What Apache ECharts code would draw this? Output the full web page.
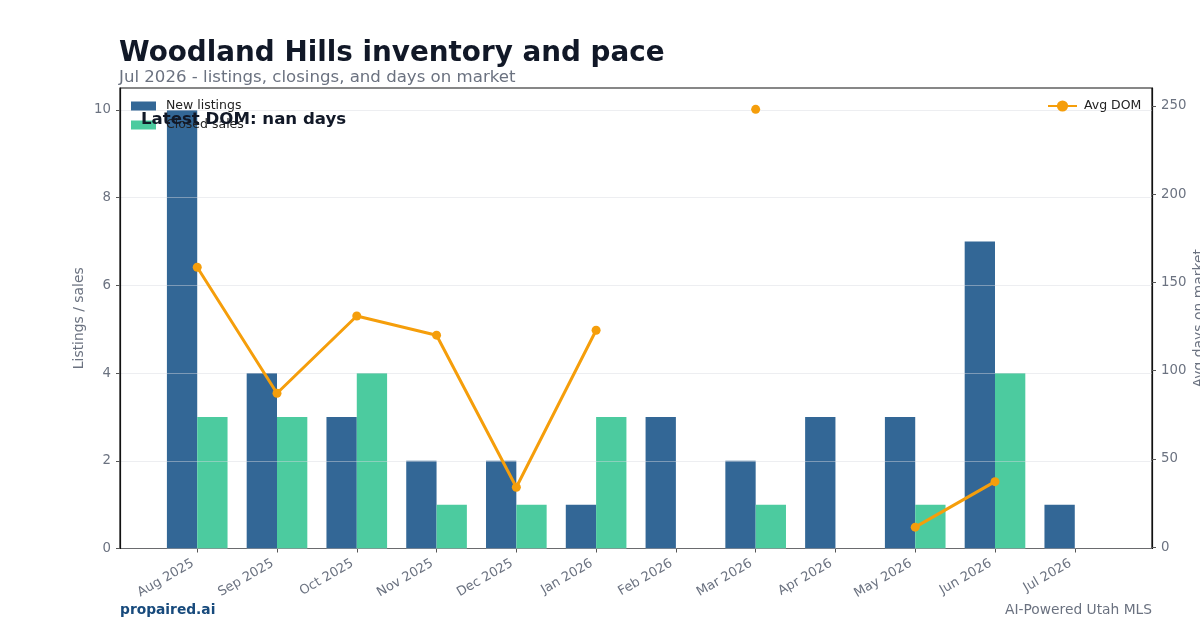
<!DOCTYPE html>
<html>
<head>
<meta charset="utf-8">
<script src="https://cdn.jsdelivr.net/npm/echarts@6/dist/echarts.min.js"></script>
<style>
html,body{margin:0;padding:0;background:#fff;}
#chart{width:1200px;height:630px;}
</style>
</head>
<body>
<div id="chart"></div>
<script>
const months = ['Aug 2025','Sep 2025','Oct 2025','Nov 2025','Dec 2025','Jan 2026','Feb 2026','Mar 2026','Apr 2026','May 2026','Jun 2026','Jul 2026'];
const newListings = [10,4,3,2,2,1,3,2,3,3,7,1];
const closedSales = [3,3,4,1,1,3,0,1,0,1,4,0];
const avgDom = [158.6,87.2,131,120.1,33.9,122.9,null,248.1,null,11.3,37.1,null];
const leftTicks = [0,2,4,6,8,10];
const rightTicks = [0,50,100,150,200,250];

const idx = months.map((m,i)=>i);
const FONT = 'DejaVu Sans';
const GRAY = '#6b7280';
const legendText = {fontFamily:FONT, fontSize:12.5, color:'#222', lineHeight:14, padding:[0,0,0,5]};

const chart = echarts.init(document.getElementById('chart'), null, {renderer:'canvas'});
chart.setOption({
  animation:false,
  backgroundColor:'#ffffff',
  textStyle:{fontFamily:FONT},
  title:[
    {text:'Woodland Hills inventory and pace', left:119, top:40, padding:0,
     textStyle:{fontFamily:FONT, fontSize:27.8, fontWeight:'bold', color:'#111827'}},
    {text:'Jul 2026 - listings, closings, and days on market', left:119, top:69, padding:0,
     textStyle:{fontFamily:FONT, fontSize:16.6, fontWeight:'normal', color:GRAY}}
  ],
  grid:{left:120, top:88, width:1032, height:460.5, outerBoundsMode:'none', containLabel:false,
        show:true, borderColor:'#111', borderWidth:1.2, backgroundColor:'transparent'},
  legend:[
    {data:['New listings'], left:131, top:99, padding:0, itemWidth:25, itemHeight:9,
     icon:'rect', textStyle:legendText},
    {data:['Closed sales'], left:131, top:118, padding:0, itemWidth:25, itemHeight:9,
     icon:'rect', textStyle:legendText},
    {data:['Avg DOM'], left:1047, top:99, padding:0, itemWidth:29, itemHeight:14,
     textStyle:{fontFamily:FONT, fontSize:12.5, color:'#222', lineHeight:14, padding:[0,0,0,2]}}
  ],
  xAxis:{
    type:'value', min:-0.968, max:11.968,
    splitLine:{show:false},
    axisLine:{show:true, onZero:false, lineStyle:{color:'#111', width:1.2}},
    axisTick:{show:true, customValues:idx, length:4, lineStyle:{color:'#555'}},
    axisLabel:{customValues:idx, rotate:30, margin:11.5, padding:[0,5,0,0], color:GRAY, fontFamily:FONT, fontSize:13,
      formatter:(v)=>months[Math.round(v)] || ''}
  },
  yAxis:[
    {type:'value', min:0, max:10.5, z:3,
     name:'Listings / sales', nameLocation:'middle', nameGap:34, nameRotate:90, nameMoveOverlap:false,
     nameTextStyle:{color:GRAY, fontFamily:FONT, fontSize:13.9},
     axisLine:{show:true, onZero:false, lineStyle:{color:'#111', width:1.2}},
     axisTick:{show:true, customValues:leftTicks, length:4, lineStyle:{color:'#555'}},
     axisLabel:{customValues:leftTicks, margin:9, color:GRAY, fontFamily:FONT, fontSize:13.3},
     splitLine:{show:true, lineStyle:{color:'rgba(215,218,224,0.45)', width:1}}
    },
    {type:'value', min:-0.8, max:260.2, position:'right',
     name:'Avg days on market', nameLocation:'middle', nameGap:40, nameRotate:90, nameMoveOverlap:false,
     nameTextStyle:{color:GRAY, fontFamily:FONT, fontSize:13.9},
     axisLine:{show:true, onZero:false, lineStyle:{color:'#111', width:1.2}},
     axisTick:{show:true, customValues:rightTicks, length:4, lineStyle:{color:'#555'}},
     axisLabel:{customValues:rightTicks, margin:9, color:GRAY, fontFamily:FONT, fontSize:13.3},
     splitLine:{show:false}
    }
  ],
  series:[
    {name:'New listings', type:'bar', yAxisIndex:0, barWidth:'38%', barGap:'0%',
     itemStyle:{color:'#336796'}, data:newListings.map((v,i)=>[i,v])},
    {name:'Closed sales', type:'bar', yAxisIndex:0, barWidth:'38%', barGap:'0%',
     itemStyle:{color:'#4ccb9f'}, data:closedSales.map((v,i)=>[i,v])},
    {name:'Avg DOM', type:'line', yAxisIndex:1, z:4, connectNulls:false,
     symbol:'circle', symbolSize:9, showAllSymbol:true,
     lineStyle:{color:'#f59e0b', width:3}, itemStyle:{color:'#f59e0b'},
     data:avgDom.map((v,i)=>[i, v===null ? '-' : v])}
  ],
  graphic:[
    {type:'text', left:141, top:111, z:100,
     style:{text:'Latest DOM: nan days', font:'bold 16.6px "DejaVu Sans"', fill:'#111827'}},
    {type:'text', left:120, top:603,
     style:{text:'propaired.ai', font:'bold 13.8px "DejaVu Sans"', fill:'#174a7c'}},
    {type:'text', right:48, top:603,
     style:{text:'AI-Powered Utah MLS', font:'13.8px "DejaVu Sans"', fill:GRAY}}
  ]
});
</script>
</body>
</html>
